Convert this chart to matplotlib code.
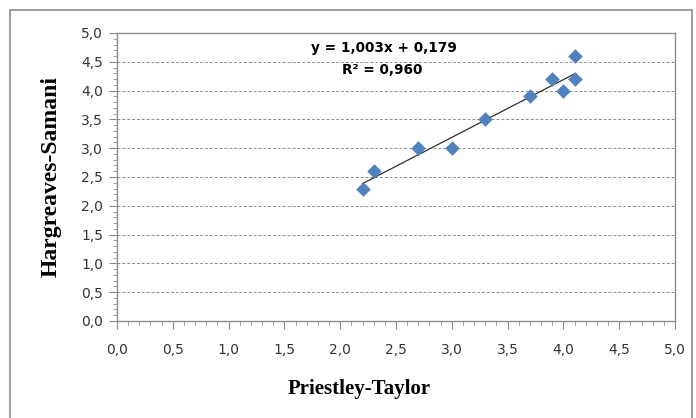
import matplotlib
matplotlib.use("Agg")
import matplotlib.pyplot as plt
import matplotlib.ticker as mticker
import numpy as np
from matplotlib.patches import Rectangle

# data
pt_values = [2.2, 2.3, 2.7, 3.0, 3.3, 3.7, 3.9, 4.0, 4.1, 4.1]
hs_values = [2.3, 2.6, 3.0, 3.0, 3.5, 3.9, 4.2, 4.0, 4.2, 4.6]
slope = 1.003
intercept = 0.179
r2 = 0.960

BLUE = "#4F81BD"
GRAY = "#8C8C8C"

fig = plt.figure(figsize=(6.96, 4.18), dpi=100)
fig.patches.append(Rectangle((10 / 696, -0.01), 682 / 696, 1 - 10 / 418 + 0.01,
                             transform=fig.transFigure, fill=False,
                             edgecolor="#8C8C8C", linewidth=1.2))
ax = fig.add_axes([117 / 696, 1 - 321 / 418, 558 / 696, 288 / 418])

ax.scatter(pt_values, hs_values, marker="D", s=55, color=BLUE, zorder=3,
           linewidths=0)
xs = np.array([min(pt_values), max(pt_values)])
ax.plot(xs, slope * xs + intercept, color="#303030", linewidth=0.9, zorder=2)

ax.set_xlim(0, 5)
ax.set_ylim(0, 5)
ax.xaxis.set_major_locator(mticker.MultipleLocator(0.5))
ax.yaxis.set_major_locator(mticker.MultipleLocator(0.5))
ax.xaxis.set_minor_locator(mticker.MultipleLocator(0.1))
ax.yaxis.set_minor_locator(mticker.MultipleLocator(0.1))
fmt = mticker.FuncFormatter(lambda v, p: f"{v:.1f}".replace(".", ","))
ax.xaxis.set_major_formatter(fmt)
ax.yaxis.set_major_formatter(fmt)

ax.tick_params(which="major", length=6, color=GRAY, labelsize=10,
               labelcolor="#333333", direction="out")
ax.tick_params(which="minor", length=3, color=GRAY, direction="out")
ax.tick_params(axis="x", which="major", pad=10)
ax.tick_params(axis="y", which="major", pad=4)

ax.grid(axis="y", which="major", linestyle=(0, (3, 2)), color="#8C8C8C",
        linewidth=0.7)
ax.set_axisbelow(True)
for s in ax.spines.values():
    s.set_color(GRAY)
    s.set_linewidth(1.0)

serif = ["Liberation Serif", "DejaVu Serif"]
ax.set_xlabel("Priestley-Taylor", fontsize=15, fontweight="bold",
              family=serif, labelpad=12)
ax.xaxis.set_label_coords((359 - 117) / 558, -0.2)
ax.set_ylabel("Hargreaves-Samani", fontsize=17, fontweight="bold",
              family=serif, labelpad=14)

ax.text(2.39, 4.74, f"y = {slope:.3f}x + {intercept:.3f}".replace(".", ","),
        fontsize=9.8, fontweight="bold", ha="center", va="center")
ax.text(2.38, 4.35, f"R² = {r2:.3f}".replace(".", ","),
        fontsize=9.8, fontweight="bold", ha="center", va="center")

fig.savefig("out.png", dpi=100)
